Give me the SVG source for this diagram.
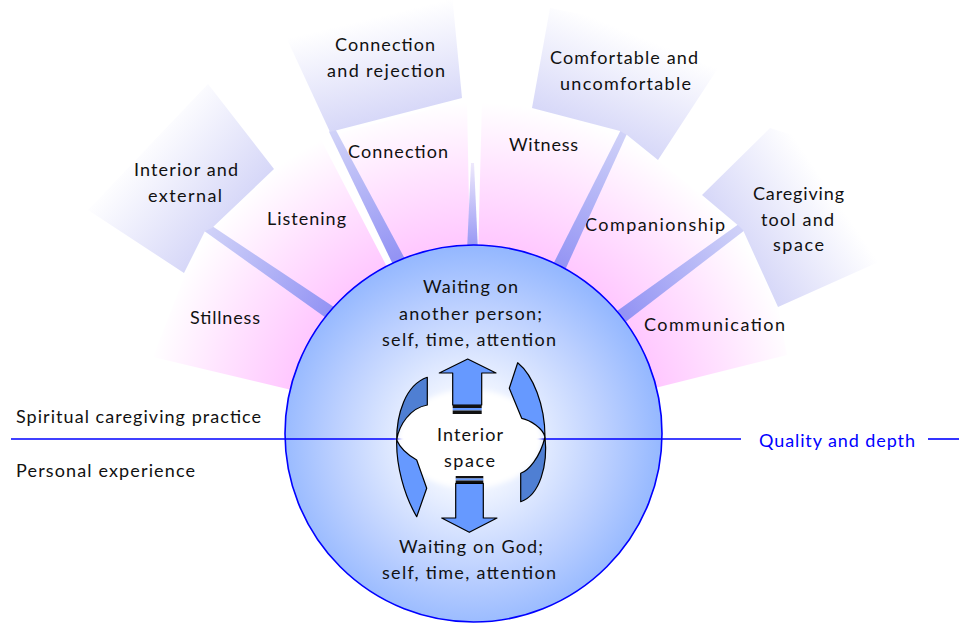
<svg xmlns="http://www.w3.org/2000/svg" width="959" height="624" viewBox="0 0 959 624">
<defs>
<style>
text{font-family:Lato,"Liberation Sans",sans-serif;font-size:18px;fill:#111;}
.c{text-anchor:middle;}
.blue{fill:#0000FF;}
.arrL{fill:#6699FF;stroke:#000;stroke-width:1.2;stroke-linejoin:round;}
.arrD{fill:#4F7FD3;stroke:#000;stroke-width:1.2;stroke-linejoin:round;}
.axis{stroke:#0000FF;stroke-width:1.6;fill:none;}
</style>
<radialGradient id="gPink" gradientUnits="userSpaceOnUse" cx="473.5" cy="433.5" r="345">
<stop offset="0.55" stop-color="#FFC8FF"/>
<stop offset="0.75" stop-color="#FFE2FF"/>
<stop offset="0.96" stop-color="#FFFFFF"/>
</radialGradient>
<radialGradient id="gBall" gradientUnits="userSpaceOnUse" cx="470" cy="440" r="192">
<stop offset="0" stop-color="#FFFFFF"/>
<stop offset="0.25" stop-color="#F2F6FF"/>
<stop offset="0.7" stop-color="#BCD0FF"/>
<stop offset="1" stop-color="#95B8FF"/>
</radialGradient>
<linearGradient id="lavIE" gradientUnits="userSpaceOnUse" x1="229" y1="221" x2="140" y2="144"><stop offset="0" stop-color="#D6D7F8"/><stop offset="1" stop-color="#FFFFFF"/></linearGradient>
<linearGradient id="lavCR" gradientUnits="userSpaceOnUse" x1="396" y1="118" x2="372" y2="18"><stop offset="0" stop-color="#D6D7F8"/><stop offset="1" stop-color="#FFFFFF"/></linearGradient>
<linearGradient id="lavCU" gradientUnits="userSpaceOnUse" x1="595" y1="135" x2="636" y2="35"><stop offset="0" stop-color="#D6D7F8"/><stop offset="1" stop-color="#FFFFFF"/></linearGradient>
<linearGradient id="lavCG" gradientUnits="userSpaceOnUse" x1="740" y1="251" x2="830" y2="190"><stop offset="0" stop-color="#D6D7F8"/><stop offset="1" stop-color="#FFFFFF"/></linearGradient>
<linearGradient id="ray1" gradientUnits="userSpaceOnUse" x1="328" y1="312" x2="208" y2="229"><stop offset="0" stop-color="#9494F4"/><stop offset="1" stop-color="#D0D2F8"/></linearGradient>
<linearGradient id="ray2" gradientUnits="userSpaceOnUse" x1="393" y1="258" x2="333" y2="133"><stop offset="0" stop-color="#9494F4"/><stop offset="1" stop-color="#D0D2F8"/></linearGradient>
<linearGradient id="ray3" gradientUnits="userSpaceOnUse" x1="472" y1="250" x2="472" y2="160"><stop offset="0" stop-color="#9494F4"/><stop offset="1" stop-color="#F2ECFC"/></linearGradient>
<linearGradient id="ray4" gradientUnits="userSpaceOnUse" x1="558" y1="266" x2="623" y2="133"><stop offset="0" stop-color="#9494F4"/><stop offset="1" stop-color="#D0D2F8"/></linearGradient>
<linearGradient id="ray5" gradientUnits="userSpaceOnUse" x1="625" y1="314" x2="740" y2="229"><stop offset="0" stop-color="#9494F4"/><stop offset="1" stop-color="#D0D2F8"/></linearGradient>
<filter id="soft" x="-20%" y="-20%" width="140%" height="140%"><feGaussianBlur stdDeviation="2.5"/></filter>
</defs>

<rect x="0" y="0" width="959" height="624" fill="#FFFFFF"/>

<!-- inner pink panels -->
<g id="node-stillness">
<polygon points="473.5,433.5 153,357 190,262 208.5,229.5 340.5,319.8" fill="url(#gPink)"/>
<text class="c" x="225" y="324" textLength="70" lengthAdjust="spacing">Stillness</text>
</g>
<g id="node-listening">
<polygon points="473.5,433.5 340.5,319.8 208.5,229.5 274,169 318,134" fill="url(#gPink)"/>
<text class="c" x="306.5" y="225" textLength="79" lengthAdjust="spacing">Listening</text>
</g>
<g id="node-connection">
<polygon points="473.5,433.5 336,134 462,101 467,101" fill="url(#gPink)"/>
<text class="c" x="398" y="158" textLength="100" lengthAdjust="spacing">Connection</text>
</g>
<g id="node-witness">
<polygon points="473.5,433.5 482,100 535,100 624,130" fill="url(#gPink)"/>
<text class="c" x="543.5" y="151" textLength="69" lengthAdjust="spacing">Witness</text>
</g>
<g id="node-companionship">
<polygon points="473.5,433.5 626,132 658,160 702,195 740,229.5 599,333.1" fill="url(#gPink)"/>
<text class="c" x="655" y="231" textLength="140" lengthAdjust="spacing">Companionship</text>
</g>
<g id="node-communication">
<polygon points="473.5,433.5 599,333.1 740,229.5 778,307 787,355" fill="url(#gPink)"/>
<text class="c" x="714.5" y="331" textLength="141" lengthAdjust="spacing">Communication</text>
</g>

<!-- connectors (rays) -->
<g id="connectors">
<polygon points="203.6,230.5 208.3,223.5 344.4,314 336.6,325.6" fill="url(#ray1)"/>
<polygon points="329,131.8 335,128.5 412.2,272.4 399.8,278.8" fill="url(#ray2)"/>
<polygon points="471,163 474,163 478.5,262 466.5,262" fill="url(#ray3)"/>
<polygon points="621.7,128.3 628,131.5 558.4,284.7 545.8,278.7" fill="url(#ray4)"/>
<polygon points="739.5,223.5 745,230 603.4,339.1 594.6,327.1" fill="url(#ray5)"/>
</g>

<!-- outer lavender panels -->
<g id="node-interior-external">
<polygon points="208,84 274,169 212,228 205,231 184,273 88,210" fill="url(#lavIE)"/>
<text class="c" x="186" y="176" textLength="104" lengthAdjust="spacing">Interior and</text>
<text class="c" x="185" y="202" textLength="74" lengthAdjust="spacing">external</text>
</g>
<g id="node-connection-rejection">
<polygon points="280,24 452,-6 462,98 330,132" fill="url(#lavCR)"/>
<text class="c" x="385" y="51" textLength="100" lengthAdjust="spacing">Connection</text>
<text class="c" x="386" y="77" textLength="118" lengthAdjust="spacing">and rejection</text>
</g>
<g id="node-comfortable">
<polygon points="550,8 712,40 722,62 658,160 627,135 620,131 532,108" fill="url(#lavCU)"/>
<text class="c" x="624" y="64" textLength="148" lengthAdjust="spacing">Comfortable and</text>
<text class="c" x="625.5" y="90" textLength="131" lengthAdjust="spacing">uncomfortable</text>
</g>
<g id="node-caregiving">
<polygon points="702,195 770,128 840,150 883,260 778,307 743,230 740,227" fill="url(#lavCG)"/>
<text class="c" x="798.5" y="200" textLength="91" lengthAdjust="spacing">Caregiving</text>
<text class="c" x="797.5" y="226" textLength="73" lengthAdjust="spacing">tool and</text>
<text class="c" x="798.5" y="251" textLength="51" lengthAdjust="spacing">space</text>
</g>

<!-- central circle -->
<g id="node-circle">
<circle cx="473.5" cy="433.5" r="188.5" fill="url(#gBall)" stroke="#0000FF" stroke-width="1.6"/>
<text class="c" x="470.5" y="293" textLength="95" lengthAdjust="spacing">Waiting on</text>
<text class="c" x="470.5" y="320" textLength="143" lengthAdjust="spacing">another person;</text>
<text class="c" x="469" y="346" textLength="174" lengthAdjust="spacing">self, time, attention</text>
<text class="c" x="471" y="553" textLength="144" lengthAdjust="spacing">Waiting on God;</text>
<text class="c" x="469" y="579" textLength="174" lengthAdjust="spacing">self, time, attention</text>
</g>

<!-- axis -->
<g id="axis">
<line class="axis" x1="11" y1="439" x2="741" y2="439"/>
<line class="axis" x1="928" y1="439" x2="959" y2="439"/>
<text x="16" y="423" textLength="245" lengthAdjust="spacing">Spiritual caregiving practice</text>
<text x="16" y="477" textLength="179" lengthAdjust="spacing">Personal experience</text>
<text class="c blue" x="837" y="447" textLength="156" lengthAdjust="spacing">Quality and depth</text>
</g>

<!-- interior space -->
<g id="node-interior-space">
<ellipse cx="470" cy="439" rx="72" ry="49" fill="#FFFFFF" filter="url(#soft)"/>
<!-- up arrow -->
<polygon class="arrL" points="467.7,359 496,373 481.7,373 481.7,405 452.7,405 452.7,373 439.3,373"/>
<rect x="452.7" y="405" width="29" height="3" fill="#111"/>
<rect x="452.7" y="408" width="29" height="2.5" fill="#6699FF"/>
<rect x="452.7" y="410.5" width="29" height="3.5" fill="#111"/>
<!-- down arrow -->
<rect x="455.7" y="476" width="27.6" height="2.5" fill="#111"/>
<rect x="455.7" y="478.5" width="27.6" height="2" fill="#6699FF"/>
<rect x="455.7" y="480.5" width="27.6" height="2.8" fill="#111"/>
<polygon class="arrL" points="455.7,483.3 483.3,483.3 483.3,518 497,518 469.3,532.3 441.7,518 455.7,518"/>
<!-- left curved arrow -->
<path class="arrD" d="M427.3,377.3 C405,385 396.5,415 396.7,440 C399,425 410,408 427.3,405 Z"/>
<path class="arrL" d="M396.7,440 C396,465 404,495 416.7,516.7 L426.7,488.3 L416.7,460 C408,455 400,448 396.7,440 Z"/>
<!-- right curved arrow -->
<path class="arrL" d="M517.7,362.7 C533,375 545,405 545,437 C543,428 530,420 521.7,418.3 L509.3,388.3 Z"/>
<path class="arrD" d="M545,437 C548,465 540,495 520.7,501.7 L520.7,473.3 C528,471 540,458 545,437 Z"/>
<text class="c" x="470" y="441" textLength="66" lengthAdjust="spacing">Interior</text>
<text class="c" x="469.5" y="467" textLength="51" lengthAdjust="spacing">space</text>
</g>
</svg>
